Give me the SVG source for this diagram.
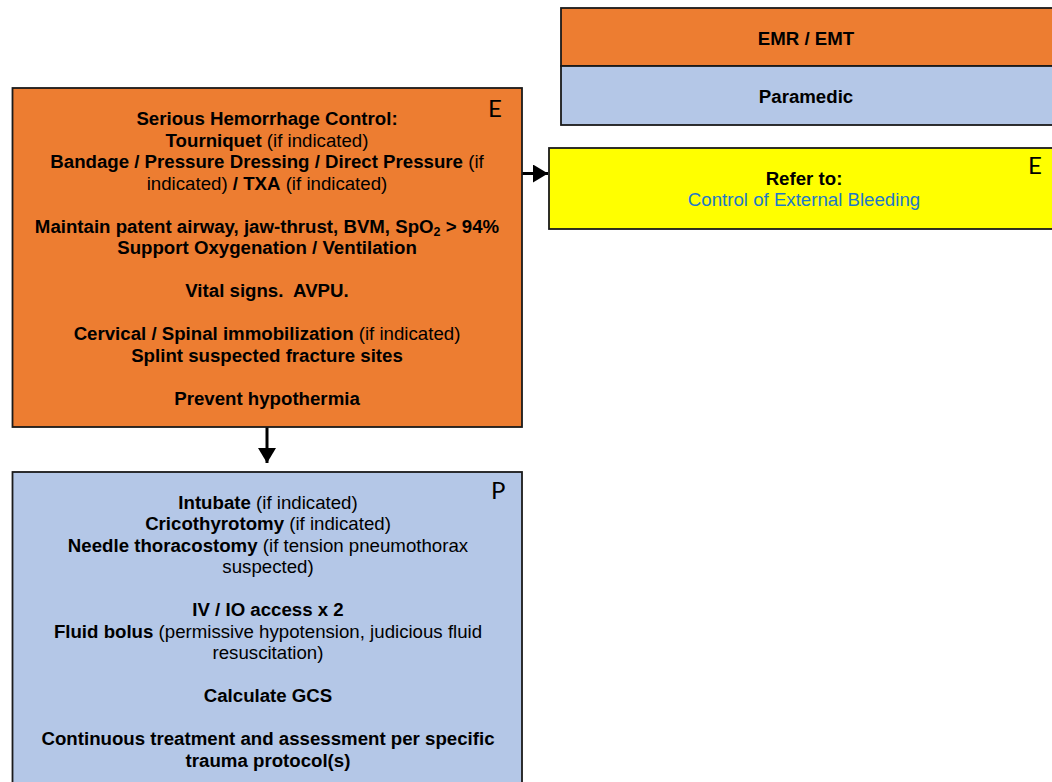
<svg xmlns="http://www.w3.org/2000/svg" width="1052" height="782" viewBox="0 0 1052 782">
  <style>
    .box { stroke: #1a1a1a; stroke-width: 1.8; }
    .emt { fill: #ED7D31; }
    .para { fill: #B4C7E7; }
    .refer { fill: #FFFF00; }
    .t { font-family: "Liberation Sans", Arial, sans-serif; font-size: 18.67px; fill: #000; text-anchor: middle; }
    .b { font-weight: bold; }
    .r { font-weight: normal; }
    .link { fill: #1E78C8; font-weight: normal; }
    .tag { font-family: Lato, "Open Sans", sans-serif; font-size: 24px; fill: #000; }
    .conn { stroke: #000; stroke-width: 3; fill: none; }
  </style>
  <defs>
    <marker id="arrow" markerWidth="6" markerHeight="6" refX="5" refY="3" orient="auto" markerUnits="strokeWidth">
      <path d="M0,0 L5,3 L0,6 z" fill="#000"/>
    </marker>
  </defs>
  <rect width="1052" height="782" fill="#fff"/>

  <!-- Legend -->
  <g id="legend">
    <rect class="box emt" x="561" y="8" width="500" height="58"/>
    <rect class="box para" x="561" y="66" width="500" height="59"/>
    <text class="t b" x="806" y="44.5">EMR / EMT</text>
    <text class="t b" x="806" y="102.5">Paramedic</text>
  </g>

  <!-- Connectors -->
  <g id="connectors">
    <line class="conn" x1="522" y1="173.5" x2="548" y2="173.5" marker-end="url(#arrow)"/>
    <line class="conn" x1="267" y1="427" x2="267" y2="463" marker-end="url(#arrow)"/>
  </g>

  <!-- EMR / EMT initial care -->
  <g id="node-emt-care">
    <rect class="box emt" x="12.5" y="88" width="509.5" height="339"/>
    <text class="tag" x="488" y="117">E</text>
    <text class="t b" x="267" y="125">Serious Hemorrhage Control:</text>
    <text class="t" x="267" y="146.5"><tspan class="b">Tourniquet</tspan><tspan class="r"> (if indicated)</tspan></text>
    <text class="t" x="267" y="168"><tspan class="b">Bandage / Pressure Dressing / Direct Pressure</tspan><tspan class="r"> (if</tspan></text>
    <text class="t" x="267" y="189.5"><tspan class="r">indicated) </tspan><tspan class="b">/ TXA</tspan><tspan class="r"> (if indicated)</tspan></text>
    <text class="t b" x="267" y="232.5">Maintain patent airway, jaw-thrust, BVM, SpO<tspan font-size="12.5" dy="3">2</tspan><tspan dy="-3"> &gt; 94%</tspan></text>
    <text class="t b" x="267" y="254">Support Oxygenation / Ventilation</text>
    <text class="t b" x="267" y="297" xml:space="preserve">Vital signs.  AVPU.</text>
    <text class="t" x="267" y="340"><tspan class="b">Cervical / Spinal immobilization</tspan><tspan class="r"> (if indicated)</tspan></text>
    <text class="t b" x="267" y="361.5">Splint suspected fracture sites</text>
    <text class="t b" x="267" y="404.5">Prevent hypothermia</text>
  </g>

  <!-- Referral -->
  <g id="node-refer">
    <rect class="box refer" x="549" y="148" width="520" height="81"/>
    <text class="tag" x="1028" y="174">E</text>
    <text class="t b" x="804" y="184.5">Refer to:</text>
    <text class="t link" x="804" y="206">Control of External Bleeding</text>
  </g>

  <!-- Paramedic care -->
  <g id="node-paramedic-care">
    <rect class="box para" x="12.5" y="472" width="509.5" height="330"/>
    <text class="tag" x="491" y="499">P</text>
    <text class="t" x="268" y="508.5"><tspan class="b">Intubate</tspan><tspan class="r"> (if indicated)</tspan></text>
    <text class="t" x="268" y="530"><tspan class="b">Cricothyrotomy</tspan><tspan class="r"> (if indicated)</tspan></text>
    <text class="t" x="268" y="551.5"><tspan class="b">Needle thoracostomy</tspan><tspan class="r"> (if tension pneumothorax</tspan></text>
    <text class="t r" x="268" y="573">suspected)</text>
    <text class="t b" x="268" y="616">IV / IO access x 2</text>
    <text class="t" x="268" y="637.5"><tspan class="b">Fluid bolus</tspan><tspan class="r"> (permissive hypotension, judicious fluid</tspan></text>
    <text class="t r" x="268" y="659">resuscitation)</text>
    <text class="t b" x="268" y="702">Calculate GCS</text>
    <text class="t b" x="268" y="745">Continuous treatment and assessment per specific</text>
    <text class="t b" x="268" y="766.5">trauma protocol(s)</text>
  </g>
</svg>
